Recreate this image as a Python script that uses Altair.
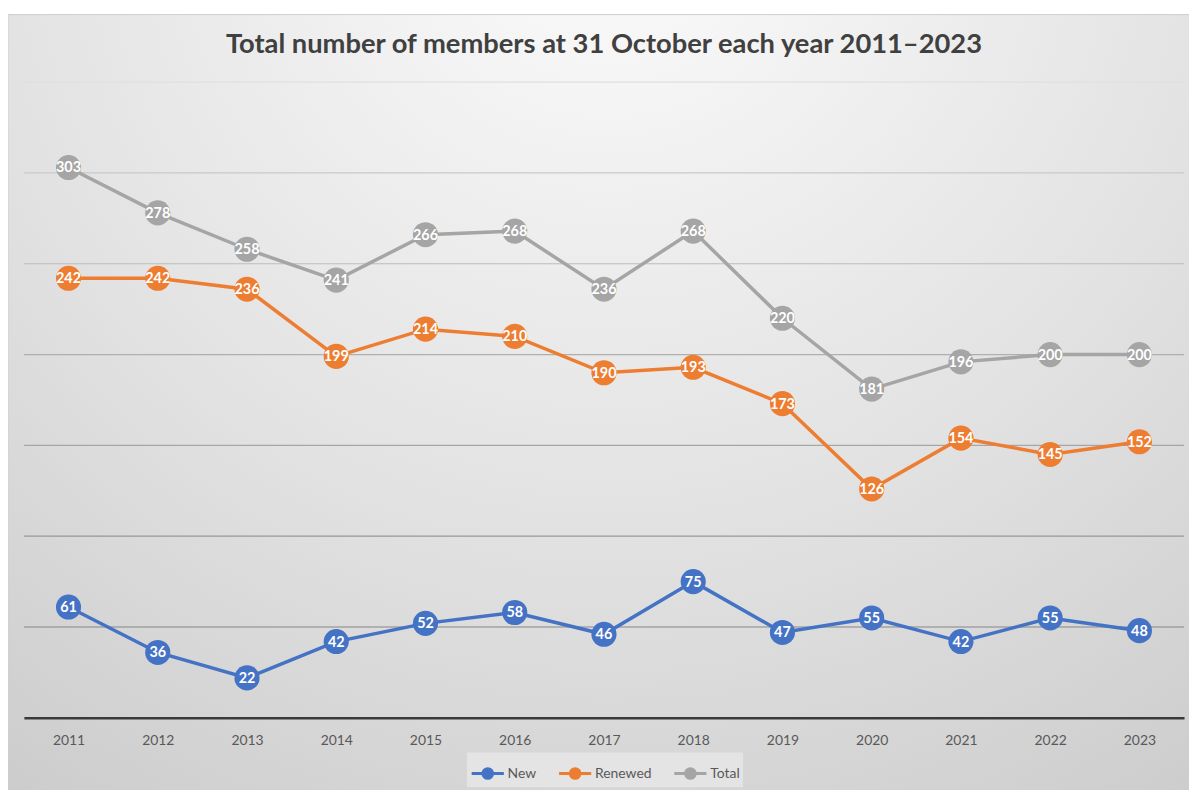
import altair as alt
import pandas as pd

years = [str(y) for y in range(2011, 2024)]
new_members = [61, 36, 22, 42, 52, 58, 46, 75, 47, 55, 42, 55, 48]
renewed_members = [242, 242, 236, 199, 214, 210, 190, 193, 173, 126, 154, 145, 152]
total_members = [303, 278, 258, 241, 266, 268, 236, 268, 220, 181, 196, 200, 200]
series_names = ["New", "Renewed", "Total"]
series_colors = ["#4472C4", "#ED7D31", "#A5A5A5"]
grid_values = [50, 100, 150, 200, 250, 300, 350]
grid_colors = ["#858585", "#979797", "#a6a6a6", "#afafaf", "#bcbcbc", "#c9c9c9", "#e0e0e0"]
title_text = "Total number of members at 31 October each year 2011\u20132023"

rows = []
for name, vals in zip(series_names, [new_members, renewed_members, total_members]):
    for y, v in zip(years, vals):
        rows.append({"year": y, "value": v, "series": name})
df = pd.DataFrame(rows)
grid_df = pd.DataFrame({"value": grid_values})

W, H = 1168, 640
PL, PT, PR, PB = 16, 72, 5, 70

x_enc = alt.X("year:O", sort=years,
              scale=alt.Scale(type="point", padding=0.5),
              axis=alt.Axis(title=None, labelAngle=0, labelFont="Lato", labelFontSize=14,
                            labelColor="#595959", labelPadding=16, ticks=False,
                            domainColor="#3a3a3a", domainWidth=2.5, grid=False, zindex=1))
y_scale = alt.Scale(domain=[0, 350], nice=False, zero=True)
y_enc = alt.Y("value:Q", scale=y_scale, axis=None)

sym_path = "M-1,0L1,0M0.3,0A0.3,0.3,0,1,1,-0.3,0A0.3,0.3,0,1,1,0.3,0Z"
leg = alt.Legend(title=None, orient="none", direction="horizontal",
                 legendX=446, legendY=H + 35,
                 symbolType=sym_path, symbolSize=1050, symbolStrokeWidth=3,
                 labelFont="Lato", labelFontSize=14, labelColor="#595959",
                 fillColor="#e4e4e4", padding=3, columnPadding=16, labelOffset=2)

one = alt.Data(values=[{"t": title_text}])

bg = alt.Chart(one).mark_rect(
    color={"gradient": "radial", "x1": 0.5, "y1": 0.08, "r1": 0.0,
           "x2": 0.5, "y2": 0.08, "r2": 0.95,
           "stops": [{"offset": 0, "color": "#fcfcfc"},
                     {"offset": 0.55, "color": "#e2e2e2"},
                     {"offset": 1, "color": "#c9c9c9"}]},
    stroke="#cfcfcf", strokeWidth=1
).encode(x=alt.value(-PL), x2=alt.value(W + PR + 20),
         y=alt.value(-PT + 4), y2=alt.value(H + PB + 10))

title = alt.Chart(one).mark_text(font="Lato", fontSize=27.5, fontWeight="bold", color="#404040",
                                 align="center", baseline="middle").encode(
    x=alt.value(W / 2), y=alt.value(-37), text="t:N")

grid = alt.Chart(grid_df).mark_rule(strokeWidth=1.2).encode(
    y=alt.Y("value:Q", scale=y_scale, axis=None),
    x=alt.value(0), x2=alt.value(W),
    color=alt.Color("value:O", scale=alt.Scale(domain=grid_values, range=grid_colors), legend=None),
)

base = alt.Chart(df)

lines = base.mark_line(strokeWidth=3.5).encode(
    x=x_enc, y=y_enc,
    stroke=alt.Stroke("series:N", scale=alt.Scale(domain=series_names, range=series_colors), legend=leg),
    detail="series:N",
)

points = base.mark_circle(size=640, opacity=1).encode(
    x=x_enc, y=y_enc,
    fill=alt.Fill("series:N", scale=alt.Scale(domain=series_names, range=series_colors), legend=leg),
)

labels = base.mark_text(color="white", font="Lato", fontSize=14.5, fontWeight="bold",
                        baseline="middle", align="center", dy=1).encode(
    x=x_enc, y=y_enc, text="value:Q")

chart = alt.layer(bg, title, grid, lines, points, labels).properties(
    width=W, height=H,
    autosize=alt.AutoSizeParams(type="none"),
    padding={"left": PL, "top": PT, "right": PR, "bottom": PB},
    background="white",
).resolve_scale(color="independent").configure_view(stroke=None)

chart.save("out.html", embed_options={"renderer": "svg", "actions": False})
